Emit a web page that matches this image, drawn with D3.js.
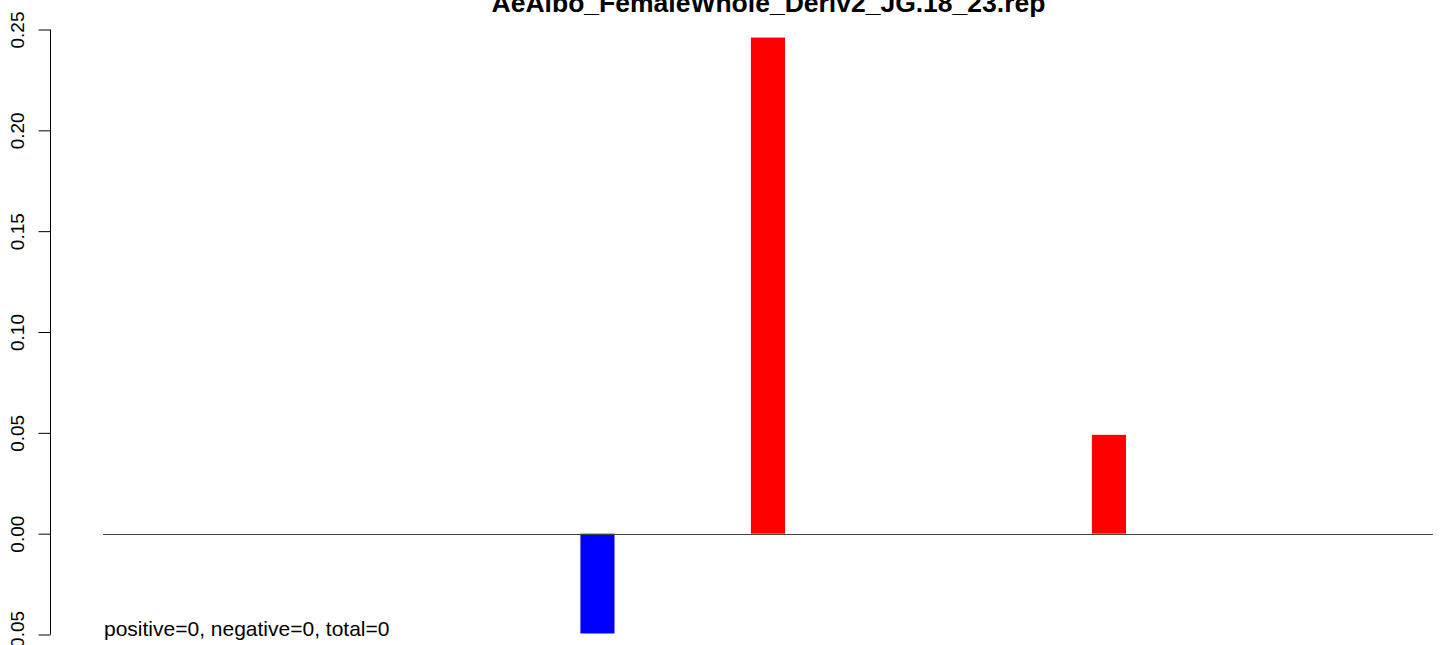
<!DOCTYPE html>
<html>
<head>
<meta charset="utf-8">
<script src="https://cdn.jsdelivr.net/npm/d3@7"></script>
<style>
  body { margin: 0; background: #fff; }
  svg { display: block; font-family: "Liberation Sans", Arial, sans-serif; }
</style>
</head>
<body>
<div id="chart"></div>
<script>
const chartTitle = "AeAlbo_FemaleWhole_Deriv2_JG.18_23.rep";
const footNote = "positive=0, negative=0, total=0";

// bar slots (right edge of each bar) and their heights
const positions = [1, 2, 3, 4, 5, 6, 7];
const values = [0, 0, -0.0495, 0.246, 0, 0.049, 0];
const yTicks = [-0.05, 0, 0.05, 0.10, 0.15, 0.20, 0.25];
const barWidth = 0.2;
const lineExtent = [0, 7.8];

const width = 1444;
const height = 645;

const svg = d3.select("#chart")
    .append("svg")
    .attr("width", width)
    .attr("height", height);

const x = d3.scaleLinear()
    .domain([0, 7.8])
    .range([103, 1432.9]);

const y = d3.scaleLinear()
    .domain([-0.05, 0.25])
    .range([634.5, 29.5]);

// bars
svg.selectAll("rect.bar")
    .data(positions.map((p, i) => ({ p, v: values[i] })).filter(d => d.v !== 0))
    .enter()
    .append("rect")
    .attr("class", "bar")
    .attr("x", d => x(d.p - barWidth))
    .attr("width", d => x(d.p) - x(d.p - barWidth))
    .attr("y", d => y(Math.max(0, d.v)))
    .attr("height", d => Math.abs(y(d.v) - y(0)))
    .attr("fill", d => d.v < 0 ? "#0000ff" : "#ff0000");

// zero line
svg.append("line")
    .attr("x1", x(lineExtent[0]))
    .attr("x2", x(lineExtent[1]))
    .attr("y1", Math.round(y(0)) + 0.5)
    .attr("y2", Math.round(y(0)) + 0.5)
    .attr("stroke", "#444")
    .attr("stroke-width", 1);

// y axis, R style with rotated labels
const yAxis = d3.axisLeft(y)
    .tickValues(yTicks)
    .tickSize(12)
    .tickPadding(0)
    .tickFormat(d3.format(".2f"));

const gy = svg.append("g")
    .attr("transform", "translate(50.5,0)")
    .call(yAxis);

gy.select(".domain")
    .attr("d", `M0,${y(-0.05)}V${y(0.25)}`)
    .attr("stroke", "#000");
gy.selectAll(".tick line").attr("stroke", "#000");
gy.selectAll(".tick text")
    .attr("x", null)
    .attr("dy", null)
    .attr("transform", "translate(-27,0) rotate(-90)")
    .attr("text-anchor", "middle")
    .attr("font-size", 19)
    .attr("fill", "#000");

// title
svg.append("text")
    .attr("x", 768.5)
    .attr("y", 12)
    .attr("text-anchor", "middle")
    .attr("font-weight", "bold")
    .attr("font-size", 26.5)
    .text(chartTitle);

// footnote
svg.append("text")
    .attr("x", 104)
    .attr("y", 636)
    .attr("font-size", 21)
    .text(footNote);
</script>
</body>
</html>
